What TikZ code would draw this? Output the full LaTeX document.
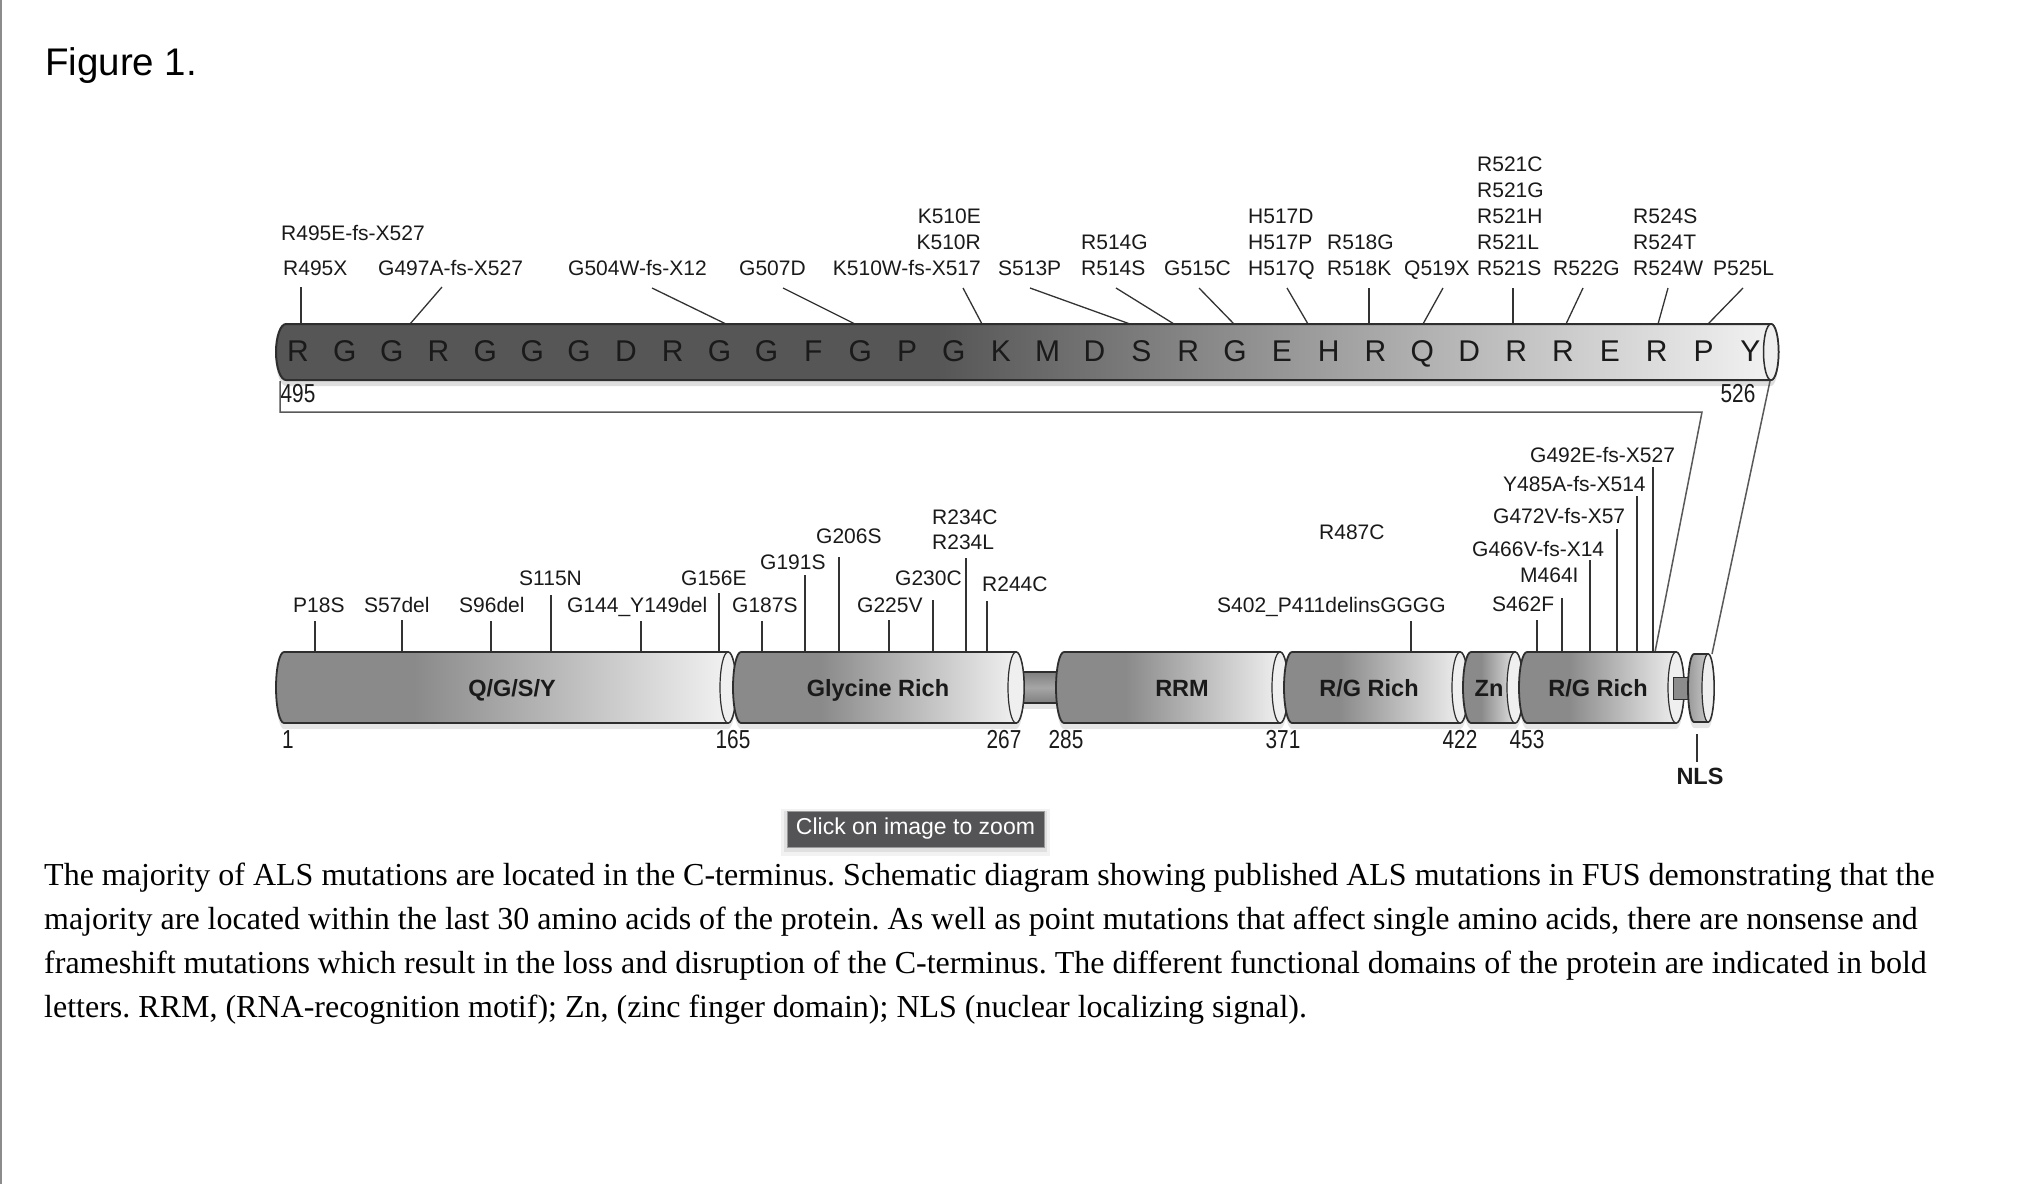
\documentclass[tikz,border=0pt]{standalone}
\usepackage{fontspec}
\setmainfont{Liberation Serif}
\newfontfamily\arialf{Liberation Sans}
\newfontfamily\narrowf{Liberation Sans}[FakeStretch=0.8]
\usetikzlibrary{calc}
\frenchspacing
\definecolor{tbdark}{HTML}{565656}
\definecolor{tblight}{HTML}{F3F3F3}
\definecolor{domA}{HTML}{8A8A8A}
\definecolor{domB}{HTML}{F4F4F4}
\definecolor{nlsA}{HTML}{9A9A9A}
\definecolor{nlsB}{HTML}{D6D6D6}
\definecolor{outl}{HTML}{2E2E2E}
\definecolor{txt}{HTML}{1A1A1A}
\definecolor{stemc}{HTML}{333333}
\definecolor{capc}{HTML}{EFEFEF}
\definecolor{btnc}{HTML}{545456}
\pgfdeclarehorizontalshading{topbarsh}{100bp}{color(0bp)=(tbdark); color(25bp)=(tbdark); color(47bp)=(tbdark); color(75bp)=(tblight); color(100bp)=(tblight)}
\pgfdeclarehorizontalshading{domsh}{100bp}{color(0bp)=(domA); color(25bp)=(domA); color(40bp)=(domA); color(75bp)=(domB); color(100bp)=(domB)}
\pgfdeclarehorizontalshading{nlssh}{100bp}{color(0bp)=(nlsA); color(25bp)=(nlsA); color(75bp)=(nlsB); color(100bp)=(nlsB)}
\newcommand\fusshadow[3]{%
  \fill[black,opacity=0.10] (#1,658) -- (#2,658) arc[start angle=90,end angle=-90,x radius=#3pt,y radius=35.5pt] -- (#1,729) arc[start angle=270,end angle=90,x radius=#3pt,y radius=35.5pt] -- cycle;}
\newcommand\fusseg[5]{%
  \shadedraw[shading=#4, draw=outl, line width=1.8pt] (#1,652) -- (#2,652) arc[start angle=90,end angle=-90,x radius=#3pt,y radius=35.5pt] -- (#1,723) arc[start angle=270,end angle=90,x radius=#3pt,y radius=35.5pt] -- cycle;
  \filldraw[fill=#5, draw=outl, line width=1.2pt] (#2,687.5) ellipse [x radius=#3pt, y radius=35.5pt];}
\newcommand\fusstem[5]{\coordinate (#1a) at (#2,#3); \coordinate (#1b) at (#4,#5); \draw[stemln] (#1a) -- (#1b);}
\begin{document}
\begin{tikzpicture}[x=1pt,y=-1pt,
  mutlbl/.style={font=\arialf\fontsize{21}{24}\selectfont, inner sep=0pt, text=txt},
  stemln/.style={draw=stemc, line width=1.3pt},
  seqlet/.style={font=\arialf\fontsize{30}{32}\selectfont, inner sep=0pt, text=txt, anchor=base},
  numlbl/.style={font=\narrowf\fontsize{26}{28}\selectfont, inner sep=0pt, text=txt, anchor=base},
  domlbl/.style={font=\arialf\bfseries\fontsize{23.5}{26}\selectfont, inner sep=0pt, text=txt, anchor=base},
  trapln/.style={draw=black!65, line width=1.5pt},
  caplbl/.style={font=\fontsize{32}{36}\selectfont, inner sep=0pt, anchor=base west, text=black}]
\useasboundingbox (0,0) rectangle (2032,1184);
\fill[white] (0,0) rectangle (2032,1184);
\draw[black!45, line width=2pt] (1,0) -- (1,1184);
\node[anchor=base west, inner sep=0pt, font=\arialf\fontsize{38.5}{44}\selectfont] (fig) at (45,75) {Figure 1.};
% top labels
\node[mutlbl,anchor=base west] (m495E) at (281,240) {R495E-fs-X527};
\node[mutlbl,anchor=base west] (m495X) at (283,275) {R495X};
\node[mutlbl,anchor=base west] (m497) at (378,275) {G497A-fs-X527};
\node[mutlbl,anchor=base west] (m504) at (568,275) {G504W-fs-X12};
\node[mutlbl,anchor=base west] (m507) at (739,275) {G507D};
\node[mutlbl,anchor=base east] (m510W) at (981,275) {K510W-fs-X517};
\node[mutlbl,anchor=base east] (m510R) at (981,249) {K510R};
\node[mutlbl,anchor=base east] (m510E) at (981,223) {K510E};
\node[mutlbl,anchor=base west] (m513) at (998,275) {S513P};
\node[mutlbl,anchor=base west] (m514S) at (1081,275) {R514S};
\node[mutlbl,anchor=base west] (m514G) at (1081,249) {R514G};
\node[mutlbl,anchor=base west] (m515) at (1164,275) {G515C};
\node[mutlbl,anchor=base west] (m517Q) at (1248,275) {H517Q};
\node[mutlbl,anchor=base west] (m517P) at (1248,249) {H517P};
\node[mutlbl,anchor=base west] (m517D) at (1248,223) {H517D};
\node[mutlbl,anchor=base west] (m518K) at (1327,275) {R518K};
\node[mutlbl,anchor=base west] (m518G) at (1327,249) {R518G};
\node[mutlbl,anchor=base west] (m519) at (1404,275) {Q519X};
\node[mutlbl,anchor=base west] (m521S) at (1477,275) {R521S};
\node[mutlbl,anchor=base west] (m521L) at (1477,249) {R521L};
\node[mutlbl,anchor=base west] (m521H) at (1477,223) {R521H};
\node[mutlbl,anchor=base west] (m521G) at (1477,197) {R521G};
\node[mutlbl,anchor=base west] (m521C) at (1477,171) {R521C};
\node[mutlbl,anchor=base west] (m522) at (1553,275) {R522G};
\node[mutlbl,anchor=base west] (m524W) at (1633,275) {R524W};
\node[mutlbl,anchor=base west] (m524T) at (1633,249) {R524T};
\node[mutlbl,anchor=base west] (m524S) at (1633,223) {R524S};
\node[mutlbl,anchor=base west] (m525) at (1713,275) {P525L};
% top stems
\fusstem{st1}{301}{287}{301}{324}
\fusstem{st2}{442}{287}{410}{324}
\fusstem{st3}{652}{288}{726}{324}
\fusstem{st4}{783}{288}{855}{324}
\fusstem{st5}{963}{288}{982}{324}
\fusstem{st6}{1030}{288}{1130}{324}
\fusstem{st7}{1116}{288}{1174}{324}
\fusstem{st8}{1199}{288}{1234}{324}
\fusstem{st9}{1287}{288}{1308}{324}
\fusstem{st10}{1369}{288}{1369}{324}
\fusstem{st11}{1443}{288}{1423}{324}
\fusstem{st12}{1513}{288}{1513}{324}
\fusstem{st13}{1583}{288}{1566}{324}
\fusstem{st14}{1668}{288}{1658}{324}
\fusstem{st15}{1743}{288}{1708}{324}
% top bar
\fill[black,opacity=0.13] (286,330) -- (1771,330) arc[start angle=90,end angle=-90,x radius=7.5pt,y radius=28pt] -- (286,386) arc[start angle=270,end angle=90,x radius=10pt,y radius=28pt] -- cycle;
\shadedraw[shading=topbarsh, draw=outl, line width=2pt] (286,324) -- (1771,324) arc[start angle=90,end angle=-90,x radius=7.5pt,y radius=28pt] -- (286,380) arc[start angle=270,end angle=90,x radius=10pt,y radius=28pt] -- cycle;
\filldraw[fill=capc, draw=outl, line width=1.5pt] (1771,352) ellipse [x radius=7.5pt, y radius=28pt];
\foreach \L [count=\i from 0] in {R,G,G,R,G,G,G,D,R,G,G,F,G,P,G,K,M,D,S,R,G,E,H,R,Q,D,R,R,E,R,P,Y}
  {\node[seqlet] (aa\i) at ({298+46.85*\i},361) {\L};}
\node[numlbl] (n495) at (298,402) {495};
\node[numlbl] (n526) at (1738,402) {526};
% trapezoid
\coordinate (tzA) at (280,381);
\coordinate (tzB) at (280,412);
\coordinate (tzC) at (1702,412);
\coordinate (tzD) at (1655,652);
\draw[trapln] (tzA) -- (tzB) -- (tzC) -- (tzD);
\coordinate (tzE) at (1770,381);
\coordinate (tzF) at (1712,654);
\draw[trapln] (tzE) -- (tzF);
% bottom labels
\node[mutlbl,anchor=base west] (b18) at (293,612) {P18S};
\node[mutlbl,anchor=base west] (b57) at (364,612) {S57del};
\node[mutlbl,anchor=base west] (b96) at (459,612) {S96del};
\node[mutlbl,anchor=base west] (b115) at (519,585) {S115N};
\node[mutlbl,anchor=base west] (b144) at (567,612) {G144\_Y149del};
\node[mutlbl,anchor=base west] (b156) at (681,585) {G156E};
\node[mutlbl,anchor=base west] (b187) at (732,612) {G187S};
\node[mutlbl,anchor=base west] (b191) at (760,569) {G191S};
\node[mutlbl,anchor=base west] (b206) at (816,543) {G206S};
\node[mutlbl,anchor=base west] (b225) at (857,612) {G225V};
\node[mutlbl,anchor=base west] (b230) at (895,585) {G230C};
\node[mutlbl,anchor=base west] (b234C) at (932,524) {R234C};
\node[mutlbl,anchor=base west] (b234L) at (932,549) {R234L};
\node[mutlbl,anchor=base west] (b244) at (982,591) {R244C};
\node[mutlbl,anchor=base west] (b402) at (1217,612) {S402\_P411delinsGGGG};
\node[mutlbl,anchor=base west] (b487) at (1319,539) {R487C};
\node[mutlbl,anchor=base west] (b462) at (1492,611) {S462F};
\node[mutlbl,anchor=base west] (b464) at (1520,582) {M464I};
\node[mutlbl,anchor=base west] (b466) at (1472,556) {G466V-fs-X14};
\node[mutlbl,anchor=base west] (b472) at (1493,523) {G472V-fs-X57};
\node[mutlbl,anchor=base west] (b485) at (1503,491) {Y485A-fs-X514};
\node[mutlbl,anchor=base west] (b492) at (1530,462) {G492E-fs-X527};
% bottom stems
\fusstem{bs18}{315}{621}{315}{652}
\fusstem{bs57}{402}{620}{402}{652}
\fusstem{bs96}{491}{621}{491}{652}
\fusstem{bs115}{551}{595}{551}{652}
\fusstem{bs144}{641}{621}{641}{652}
\fusstem{bs156}{719}{593}{719}{652}
\fusstem{bs187}{762}{621}{762}{652}
\fusstem{bs191}{805}{575}{805}{652}
\fusstem{bs206}{839}{557}{839}{652}
\fusstem{bs225}{889}{620}{889}{652}
\fusstem{bs230}{933}{600}{933}{652}
\fusstem{bs234}{966}{558}{966}{652}
\fusstem{bs244}{987}{601}{987}{652}
\fusstem{bs402}{1411}{621}{1411}{652}
\fusstem{bs462}{1537}{620}{1537}{652}
\fusstem{bs464}{1562}{598}{1562}{652}
\fusstem{bs466}{1590}{560}{1590}{652}
\fusstem{bs472}{1617}{529}{1617}{652}
\fusstem{bs485}{1637}{496}{1637}{652}
\fusstem{bs492}{1653}{467}{1653}{652}
% domain bar shadows
\fusshadow{284}{728}{8}
\fusshadow{741}{1016}{8}
\fill[black,opacity=0.10] (1020,678) rectangle (1062,709);
\fusshadow{1064}{1280}{8}
\fusshadow{1292}{1460}{8}
\fusshadow{1471}{1515}{8}
\fusshadow{1527}{1676}{8}
\fill[black,opacity=0.10] (1694,660) -- (1708,660) arc[start angle=90,end angle=-90,x radius=6pt,y radius=34pt] -- (1694,728) arc[start angle=270,end angle=90,x radius=6pt,y radius=34pt] -- cycle;
% domain segments
\fusseg{284}{728}{8}{domsh}{capc}
\shadedraw[top color=black!50, bottom color=black!50, middle color=black!35, draw=outl, line width=1.5pt] (1012,672) rectangle (1062,703);
\fusseg{741}{1016}{8}{domsh}{capc}
\fusseg{1064}{1280}{8}{domsh}{capc}
\fusseg{1292}{1460}{8}{domsh}{capc}
\fusseg{1471}{1515}{8}{domsh}{capc}
\fusseg{1527}{1676}{8}{domsh}{capc}
\filldraw[fill=black!45, draw=outl, line width=1pt] (1673,677) rectangle (1691,699);
\shadedraw[shading=nlssh, draw=outl, line width=1.8pt] (1694,654) -- (1708,654) arc[start angle=90,end angle=-90,x radius=6pt,y radius=34pt] -- (1694,722) arc[start angle=270,end angle=90,x radius=6pt,y radius=34pt] -- cycle;
\filldraw[fill=capc, draw=outl, line width=1.2pt] (1708,688) ellipse [x radius=6pt, y radius=34pt];
% domain labels
\node[domlbl] (dQ) at (512,696) {Q/G/S/Y};
\node[domlbl] (dG) at (878,696) {Glycine Rich};
\node[domlbl] (dRRM) at (1182,696) {RRM};
\node[domlbl] (dRG1) at (1369,696) {R/G Rich};
\node[domlbl] (dZn) at (1489,696) {Zn};
\node[domlbl] (dRG2) at (1598,696) {R/G Rich};
% position numbers
\node[numlbl] (p1) at (288,748) {1};
\node[numlbl] (p165) at (733,748) {165};
\node[numlbl] (p267) at (1004,748) {267};
\node[numlbl] (p285) at (1066,748) {285};
\node[numlbl] (p371) at (1283,748) {371};
\node[numlbl] (p422) at (1460,748) {422};
\node[numlbl] (p453) at (1527,748) {453};
% NLS
\coordinate (nlsT) at (1697,734);
\node[domlbl] (nls) at (1700,784) {NLS};
\coordinate (nlsB) at (1697,762);
\draw[stemln] (nlsT) -- (nlsB);
% button
\fill[black,opacity=0.05] (781,809) rectangle (1050,856);
\fill[black,opacity=0.07] (784,811) rectangle (1047,852);
\node[fill=btnc, draw=black!40, line width=0.8pt, text=white, font=\arialf\fontsize{23}{25}\selectfont, minimum width=257pt, minimum height=36pt, inner sep=0pt] (btn) at (915.5,829) {Click on image to zoom};
% caption
\node[caplbl] (c1) at (44,885) {The majority of ALS mutations are located in the C-terminus. Schematic diagram showing published ALS mutations in FUS demonstrating that the};
\node[caplbl] (c2) at (44,929) {majority are located within the last 30 amino acids of the protein. As well as point mutations that affect single amino acids, there are nonsense and};
\node[caplbl] (c3) at (44,973) {frameshift mutations which result in the loss and disruption of the C-terminus. The different functional domains of the protein are indicated in bold};
\node[caplbl] (c4) at (44,1017) {letters. RRM, (RNA-recognition motif); Zn, (zinc finger domain); NLS (nuclear localizing signal).};
\end{tikzpicture}
\end{document}
